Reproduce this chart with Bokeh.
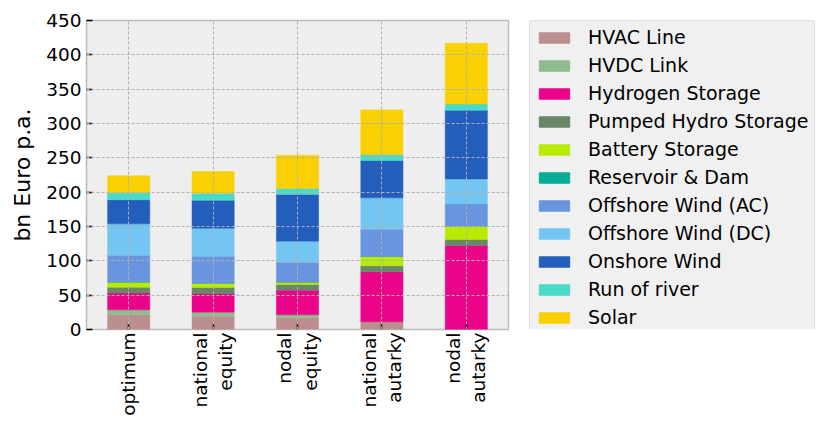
import math
from bokeh.plotting import figure
from bokeh.layouts import row
from bokeh.models import ColumnDataSource, Legend, LegendItem, FactorRange, Range1d
from bokeh.embed import file_html
from bokeh.resources import INLINE

scenarios = ["optimum", "national\nequity", "nodal\nequity", "national\nautarky", "nodal\nautarky"]
techs = ["HVAC Line", "HVDC Link", "Hydrogen Storage", "Pumped Hydro Storage", "Battery Storage",
         "Reservoir & Dam", "Offshore Wind (AC)", "Offshore Wind (DC)", "Onshore Wind",
         "Run of river", "Solar"]
colors = ["#bc8f8f", "#8fbc8f", "#ea048a", "#698669", "#b8ea04",
          "#08ad97", "#6895dd", "#74c6f2", "#235ebc", "#4adbc8", "#f9d002"]

hvac      = [21.4, 19.4, 17.0, 11.2, 0.0]
hvdc      = [7.3, 5.8, 4.4, 0.0, 0.0]
hydrogen  = [24.3, 27.2, 35.9, 72.8, 122.3]
phs       = [8.7, 8.7, 8.3, 8.7, 8.7]
battery   = [7.3, 6.3, 3.4, 13.6, 19.4]
reservoir = [0.0, 0.0, 0.0, 0.0, 0.0]
off_ac    = [39.3, 39.3, 29.1, 39.8, 32.5]
off_dc    = [45.6, 40.8, 30.6, 45.6, 36.4]
onwind    = [35.0, 40.8, 68.0, 54.4, 100.0]
ror       = [10.2, 9.7, 8.7, 8.7, 9.2]
solar     = [24.8, 32.0, 48.5, 65.0, 88.3]

series = [hvac, hvdc, hydrogen, phs, battery, reservoir, off_ac, off_dc, onwind, ror, solar]
yticks = [0, 50, 100, 150, 200, 250, 300, 350, 400, 450]

data = {"x": scenarios}
for t, s in zip(techs, series):
    data[t] = s
source = ColumnDataSource(data)

FONT = "DejaVu Sans"

p = figure(x_range=FactorRange(*scenarios), y_range=Range1d(0, 450),
           frame_width=422, frame_height=309,
           min_border_left=86, min_border_top=20, min_border_bottom=90, min_border_right=10,
           output_backend="svg", toolbar_location=None)

renderers = p.vbar_stack(techs, x="x", width=0.5, source=source, color=colors,
                         line_color=colors, line_width=0.5)

p.background_fill_color = "#eeeeee"
p.border_fill_color = "white"
p.outline_line_color = "#bcbcbc"
p.outline_line_width = 1.5

for ax in (p.xaxis[0], p.yaxis[0]):
    ax.axis_line_color = None
    ax.major_tick_in = 6
    ax.major_tick_out = 0
    ax.major_tick_line_color = "black"
    ax.major_tick_line_width = 1.5
    ax.minor_tick_line_color = None
    ax.major_label_text_font = FONT
    ax.major_label_text_font_size = "18.5px"
    ax.major_label_text_color = "black"

p.yaxis[0].major_label_standoff = 5
p.xaxis[0].major_label_standoff = 3
p.yaxis[0].ticker = yticks
p.yaxis[0].axis_label = "bn Euro p.a."
p.yaxis[0].axis_label_text_font = FONT
p.yaxis[0].axis_label_text_font_size = "22px"
p.yaxis[0].axis_label_text_font_style = "normal"
p.yaxis[0].axis_label_text_color = "black"
p.yaxis[0].axis_label_standoff = 8
p.xaxis[0].major_label_orientation = math.pi / 2
p.xaxis[0].major_label_text_align = "right"

for g in (p.xgrid[0], p.ygrid[0]):
    g.grid_line_color = "#b0b0b0"
    g.grid_line_dash = "3 2"
    g.grid_line_width = 1
    g.level = "annotation"

# legend lives in its own panel to the right of the chart
q = figure(width=305, height=419, x_range=Range1d(0, 1), y_range=Range1d(0, 1),
           min_border_left=11, min_border_top=17, min_border_right=0, min_border_bottom=0,
           output_backend="svg", toolbar_location=None)
q.axis.visible = False
q.grid.visible = False
q.outline_line_color = None
q.background_fill_color = "white"
# swatch-only renderers placed outside the visible range
legend_renderers = [q.vbar(x=[5], top=[1], width=0.5, color=c) for c in colors]

items = [LegendItem(label=t, renderers=[r]) for t, r in zip(techs, legend_renderers)]
legend = Legend(items=items, location="top_left")
legend.label_text_font = FONT
legend.label_text_font_size = "19px"
legend.label_text_color = "black"
legend.glyph_width = 38
legend.glyph_height = 13
legend.label_height = 22
legend.spacing = 6
legend.padding = 5
legend.label_standoff = 15
legend.margin = 0
legend.background_fill_color = "#f0f0f0"
legend.background_fill_alpha = 1
legend.border_line_color = "#cccccc"
legend.border_line_width = 1
legend.border_radius = 3
q.add_layout(legend, "center")

layout = row(p, q)
open("out.html", "w").write(file_html(layout, INLINE))
